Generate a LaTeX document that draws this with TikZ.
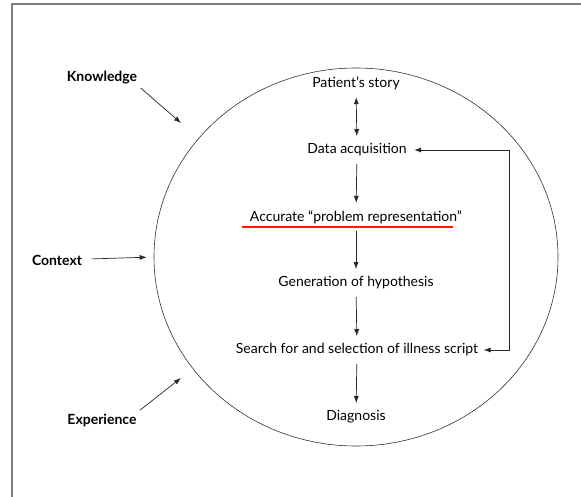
\documentclass[tikz,border=0pt]{standalone}
\usepackage{fontspec}
\setmainfont{Lato}
\usetikzlibrary{shapes,arrows,arrows.meta}

\begin{document}
\begin{tikzpicture}[x=1pt,y=-1pt,>={Latex[length=7pt,width=5pt]},
    stage/.style={font=\fontsize{14}{16}\selectfont},
    factor/.style={font=\bfseries\fontsize{14}{16}\selectfont},
    flow/.style={->,line width=0.7pt,black!85,shorten <=4pt,shorten >=4pt}]
  \useasboundingbox (0,0) rectangle (581,497);
  % frame
  \draw[gray,line width=1.5pt] (12,497) -- (12,4) -- (581,4);
  \node[draw=black!80,line width=0.6pt,ellipse,minimum width=404,minimum height=378] (cycle) at (356,257) {};
  % steps of the reasoning
  \node[stage] (story)  at (356,83)  {Patient’s story};
  \node[stage] (data)   at (357,150) {Data acquisition};
  \node[stage] (repr)   at (356,217) {Accurate “problem representation”};
  \node[stage] (hyp)    at (356,283) {Generation of hypothesis};
  \node[stage] (script) at (357,350) {Search for and selection of illness script};
  \node[stage] (diag)   at (356,417) {Diagnosis};
  \draw[flow,<->] (story) -- (data);
  \draw[flow] (data) -- (repr);
  \draw[flow] (repr) -- (hyp);
  \draw[flow] (hyp) -- (script);
  \draw[flow] (script) -- (diag);
  % loop back
  \coordinate (loopTop) at (509,150);
  \coordinate (loopBot) at (509,350);
  \draw[flow,<->,shorten <=4pt,shorten >=2pt] (data.east) -- (loopTop) -- (loopBot) -- (script.east);
  \draw[red!80!orange,line width=2.2pt] (242,227) -- (453,227);
  % outer factors
  \node[factor] (know) at (102,78)  {Knowledge};
  \node[factor] (ctx)  at (57,260)  {Context};
  \node[factor] (exp)  at (102,420) {Experience};
  \coordinate (knowTip) at (181,123);
  \coordinate (expTip) at (181,378);
  \draw[flow,shorten <=0pt,shorten >=0pt] (know.south east) -- (knowTip);
  \draw[flow,shorten <=6pt,shorten >=7pt] (ctx) -- (cycle.west);
  \draw[flow,shorten <=0pt,shorten >=0pt] (exp.north east) -- (expTip);
\end{tikzpicture}
\end{document}
